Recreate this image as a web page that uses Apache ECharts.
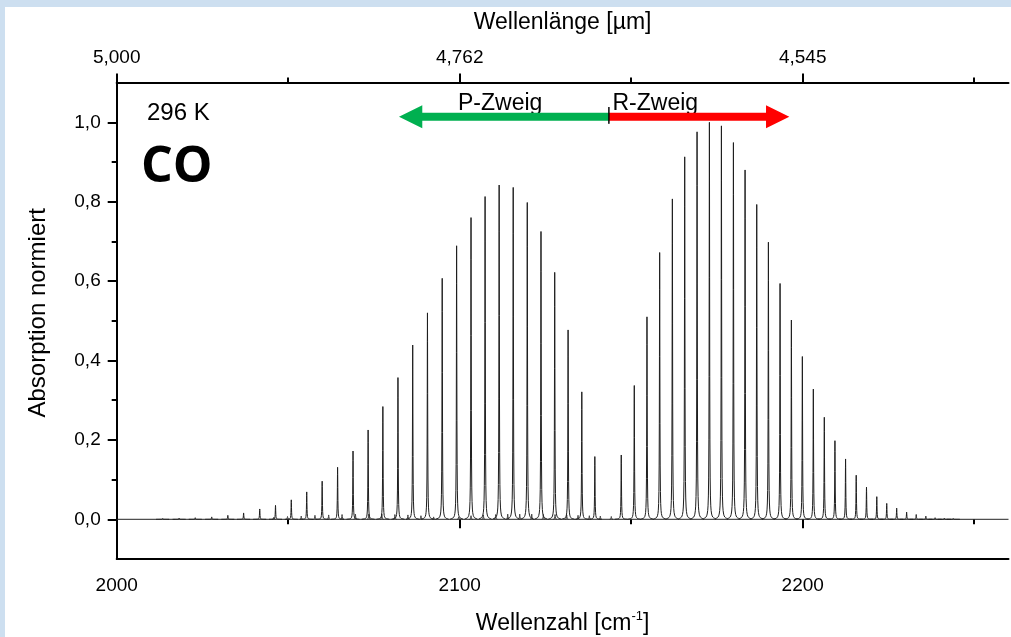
<!DOCTYPE html>
<html><head><meta charset="utf-8">
<script src="https://cdn.jsdelivr.net/npm/echarts@6/dist/echarts.min.js"></script>
<style>
html,body{margin:0;padding:0;width:1011px;height:637px;overflow:hidden;background:#cddff0;}
#chart{position:absolute;left:5px;top:7px;width:1006px;height:630px;background:#fff;}
</style></head><body><div id="chart"></div>
<script>
// ---- data ----
// 12CO P-branch lines P(1)..P(30): position [cm^-1], normalised absorption
const pBranchPos = [2139.4, 2135.6, 2131.6, 2127.7, 2123.7, 2119.7, 2115.6, 2111.5, 2107.4, 2103.3,
  2099.1, 2094.9, 2090.6, 2086.3, 2082.0, 2077.6, 2073.3, 2068.9, 2064.4, 2059.9,
  2055.4, 2050.9, 2046.3, 2041.7, 2037.0, 2032.4, 2027.7, 2022.9, 2018.2, 2013.4];
const pBranchVal = [0.158, 0.321, 0.477, 0.622, 0.725, 0.798, 0.836, 0.842, 0.813, 0.760,
  0.689, 0.607, 0.520, 0.439, 0.357, 0.284, 0.225, 0.172, 0.131, 0.096,
  0.069, 0.049, 0.035, 0.026, 0.016, 0.010, 0.006, 0.004, 0.003, 0.002];
// 12CO R-branch lines R(0)..R(30)
const rBranchPos = [2147.1, 2150.9, 2154.6, 2158.3, 2162.0, 2165.6, 2169.2, 2172.8, 2176.3, 2179.8,
  2183.2, 2186.6, 2190.0, 2193.4, 2196.7, 2199.9, 2203.1, 2206.3, 2209.4, 2212.5,
  2215.6, 2218.6, 2221.6, 2224.5, 2227.4, 2230.3, 2233.1, 2235.9, 2238.6, 2241.3, 2243.9];
const rBranchVal = [0.162, 0.337, 0.510, 0.672, 0.807, 0.913, 0.976, 1.000, 0.991, 0.949,
  0.880, 0.793, 0.698, 0.594, 0.502, 0.410, 0.328, 0.257, 0.198, 0.152,
  0.111, 0.081, 0.057, 0.040, 0.028, 0.018, 0.012, 0.008, 0.004, 0.003, 0.002];
// weak isotopologue (13CO) lines visible near the baseline
const isoPos = [2092.4, 2088.7, 2084.9, 2081.1, 2077.3, 2073.5, 2069.6, 2065.7, 2061.8, 2057.8, 2053.8, 2049.8, 2045.8,
  2099.7, 2103.3, 2106.9, 2110.5, 2114.0, 2117.5, 2121.0, 2124.4, 2127.8, 2131.2, 2134.5, 2137.8, 2141.0, 2144.2];
const isoVal = [0.006, 0.009, 0.011, 0.012, 0.013, 0.013, 0.013, 0.012, 0.011, 0.010, 0.008, 0.007, 0.005,
  0.006, 0.009, 0.011, 0.012, 0.013, 0.013, 0.013, 0.012, 0.012, 0.011, 0.010, 0.009, 0.008, 0.007];
const baseline = [[2000, 0], [2260, 0]];
// branch arrows: [start, tip, height]
const arrowP = [2143.5, 2082.3, 1.014];
const arrowR = [2143.5, 2196.1, 1.014];
// ticks
const xTickValues = [2000, 2100, 2200];
const xTickLabels = ['2000', '2100', '2200'];
const topTickLabels = ['5,000', '4,762', '4,545'];
const yTickValues = [0, 0.2, 0.4, 0.6, 0.8, 1.0];
const yTickLabels = ['0,0', '0,2', '0,4', '0,6', '0,8', '1,0'];

// ---- layout ----
const W = 1006, H = 630;
const X_MIN = 2000, X_MAX = 2260, Y_MIN = -0.1, Y_MAX = 1.1;
const G = {left: 111.7, right: 2.5, top: 75.6, bottom: 78};
const pxX = (W - G.left - G.right) / (X_MAX - X_MIN);
const pxY = (H - G.top - G.bottom) / (Y_MAX - Y_MIN);
// tick grid: x 2000..2300, y 0..1 (same pixel scale)
const TX_MAX = 2300, TY_MIN = 0, TY_MAX = 1;
const TG = {
  left: G.left,
  width: (TX_MAX - X_MIN) * pxX,
  top: G.top + (Y_MAX - TY_MAX) * pxY,
  height: (TY_MAX - TY_MIN) * pxY
};
const xOff = (TY_MIN - Y_MIN) * pxY;
const tOff = (Y_MAX - TY_MAX) * pxY;

const FONT = "'Liberation Sans', Arial, sans-serif";
const black = '#000';

function lookup(vals, labels) {
  return function (v) {
    for (let i = 0; i < vals.length; i++) if (Math.abs(vals[i] - v) < 1e-6) return labels[i];
    return '';
  };
}

const GAMMA2 = 0.075 * 0.075;
const OFFS = [-1.9, -1.5, -1.2, -1.0, -0.8, -0.65, -0.5, -0.4, -0.3, -0.22, -0.15, -0.1, -0.06, -0.03, 0,
  0.03, 0.06, 0.1, 0.15, 0.22, 0.3, 0.4, 0.5, 0.65, 0.8, 1.0, 1.2, 1.5, 1.9];
const OFFS_ISO = [-0.5, -0.3, -0.15, -0.06, 0, 0.06, 0.15, 0.3, 0.5];
function makePeakRenderer(offs, color) {
  return function (params, api) {
    const x = api.value(0), h = api.value(1);
    const last = offs[offs.length - 1];
    const pts = offs.map(function (d) {
      const y = Math.abs(d) >= last ? 0 : h * GAMMA2 / (GAMMA2 + d * d);
      return api.coord([x + d, y]);
    });
    return {type: 'polyline', shape: {points: pts}, silent: true,
      style: {stroke: color, lineWidth: 1, fill: null}};
  };
}
const arrowColors = ['#00b050', '#ff0000'];
function renderArrow(params, api) {
  const x0 = api.value(0), x1 = api.value(1), y = api.value(2);
  const p0 = api.coord([x0, y]), p1 = api.coord([x1, y]);
  const dir = p1[0] > p0[0] ? 1 : -1;
  const HL = 23.3, HH = 11.5, SH = 4.1;
  const b = p1[0] - dir * HL, cy = p0[1];
  return {type: 'group', silent: true, children: [
    {type: 'polygon', shape: {points: [[p0[0], cy - SH], [b, cy - SH], [b, cy - HH], [p1[0], cy], [b, cy + HH], [b, cy + SH], [p0[0], cy + SH]]},
      style: {fill: arrowColors[params.dataIndex]}},
    {type: 'line', shape: {x1: p0[0], y1: cy - 9.7, x2: p0[0], y2: cy + 7}, style: {stroke: black, lineWidth: 1}, z2: 10}
  ]};
}

const pData = pBranchPos.map((p, i) => [p, pBranchVal[i]]);
const rData = rBranchPos.map((p, i) => [p, rBranchVal[i]]);
const isoData = isoPos.map((p, i) => [p, isoVal[i]]);

const axisLine = {show: true, onZero: false, lineStyle: {color: black, width: 2}};
const tick = {show: true, inside: false, length: 9, lineStyle: {color: black, width: 2}};
const minor = {show: true, splitNumber: 2, length: 5, lineStyle: {color: black, width: 2}};
const lbl = {color: black, fontFamily: FONT, fontSize: 19};
const nameStyle = {color: black, fontFamily: FONT, fontSize: 23};

const chart = echarts.init(document.getElementById('chart'), null, {renderer: 'canvas', width: W, height: H});
chart.setOption({
  animation: false,
  backgroundColor: '#ffffff',
  grid: [
    {left: G.left, right: G.right, top: G.top, bottom: G.bottom, containLabel: false, outerBoundsMode: 'none'},
    {left: TG.left, width: TG.width, top: TG.top, height: TG.height, containLabel: false, outerBoundsMode: 'none'}
  ],
  xAxis: [
    {gridIndex: 0, type: 'value', position: 'bottom', min: X_MIN, max: X_MAX,
      axisLine: axisLine, axisTick: {show: false}, axisLabel: {show: false}, splitLine: {show: false},
      name: 'Wellenzahl [cm{sup|-1}]', nameLocation: 'middle', nameGap: 51,
      nameTextStyle: Object.assign({}, nameStyle, {rich: {sup: {fontFamily: FONT, fontSize: 13, color: black, verticalAlign: 'top', padding: [0, 0, 14, 0]}}})},
    {gridIndex: 1, type: 'value', position: 'bottom', offset: xOff, min: X_MIN, max: TX_MAX, interval: 100,
      axisLine: {show: false}, axisTick: tick, minorTick: minor, splitLine: {show: false},
      axisLabel: Object.assign({}, lbl, {margin: 17, formatter: lookup(xTickValues, xTickLabels)})},
    {gridIndex: 1, type: 'value', position: 'top', offset: tOff, min: X_MIN, max: TX_MAX, interval: 100,
      axisLine: {show: false}, axisTick: tick, minorTick: minor, splitLine: {show: false},
      axisLabel: Object.assign({}, lbl, {margin: 15, formatter: lookup(xTickValues, topTickLabels)})},
    {gridIndex: 0, type: 'value', position: 'top', min: X_MIN, max: X_MAX,
      axisLine: axisLine, axisTick: {show: false}, axisLabel: {show: false}, splitLine: {show: false},
      name: 'Wellenlänge [µm]', nameLocation: 'middle', nameGap: 48, nameTextStyle: nameStyle}
  ],
  yAxis: [
    {gridIndex: 0, type: 'value', min: Y_MIN, max: Y_MAX,
      axisLine: axisLine, axisTick: {show: false}, axisLabel: {show: false}, splitLine: {show: false},
      name: 'Absorption normiert', nameLocation: 'middle', nameGap: 66,
      nameTextStyle: Object.assign({}, nameStyle, {fontSize: 24, padding: [0, 0, 0, 16]})},
    {gridIndex: 1, type: 'value', min: TY_MIN, max: TY_MAX, interval: 0.2,
      axisLine: {show: false}, axisTick: tick, minorTick: minor, splitLine: {show: false},
      axisLabel: Object.assign({}, lbl, {margin: 16, formatter: lookup(yTickValues, yTickLabels)})}
  ],
  series: [
    {type: 'line', xAxisIndex: 0, yAxisIndex: 0, data: baseline, symbol: 'none', silent: true,
      lineStyle: {color: '#222', width: 1}},
    {type: 'custom', xAxisIndex: 0, yAxisIndex: 0, data: isoData, renderItem: makePeakRenderer(OFFS_ISO, '#444'), silent: true},
    {type: 'custom', xAxisIndex: 0, yAxisIndex: 0, data: pData, renderItem: makePeakRenderer(OFFS, '#1e1e1e'), silent: true},
    {type: 'custom', xAxisIndex: 0, yAxisIndex: 0, data: rData, renderItem: makePeakRenderer(OFFS, '#1e1e1e'), silent: true},
    {type: 'custom', xAxisIndex: 0, yAxisIndex: 0, data: [arrowP, arrowR], renderItem: renderArrow, silent: true, z: 5}
  ],
  graphic: [
    {type: 'text', left: 142, top: 94, style: {text: '296 K', fontFamily: FONT, fontSize: 24, fill: black}},
    {type: 'text', left: 136, top: 136, style: {text: 'CO', fontFamily: "'Open Sans', 'Noto Sans', sans-serif", fontWeight: 'bold', fontSize: 50, fill: black}},
    {type: 'text', left: 453, top: 85, style: {text: 'P-Zweig', fontFamily: FONT, fontSize: 23, fill: black}},
    {type: 'text', left: 607.5, top: 85, style: {text: 'R-Zweig', fontFamily: FONT, fontSize: 23, fill: black}}
  ]
});
</script></body></html>
